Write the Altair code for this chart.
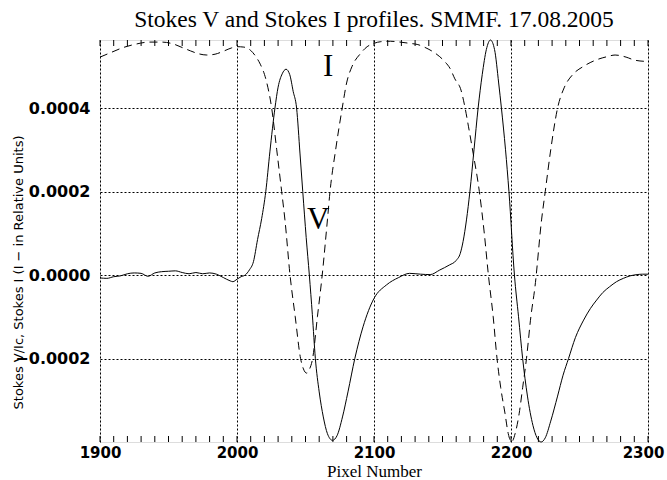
import altair as alt
import pandas as pd

# Stokes V (solid)
v_x = [1900, 1905, 1910, 1915, 1920, 1925, 1930, 1935, 1940, 1945, 1950, 1955, 1960, 1965,
       1970, 1975, 1980, 1985, 1990, 1995, 1997, 2000, 2003, 2006, 2009, 2012, 2015, 2018,
       2021, 2024, 2027.7, 2030, 2033, 2035.8, 2038.5, 2041, 2043.5, 2046, 2048, 2050.5,
       2052.8, 2055, 2057.2, 2060, 2063, 2066, 2069.7, 2073, 2077, 2081, 2086, 2092, 2100,
       2109, 2118, 2126, 2134, 2141, 2148, 2155, 2160, 2163, 2165, 2167.5, 2170, 2173, 2176,
       2179, 2182, 2185, 2188, 2191, 2193, 2196, 2198.5, 2202.5, 2205.5, 2208.5, 2212, 2216,
       2219, 2222, 2225, 2229, 2234, 2238, 2242, 2247, 2253, 2258, 2262.5, 2267, 2272, 2277,
       2282, 2287, 2292, 2296, 2300]
v_y = [-0.000007, -0.000008, -0.000004, -0.000002, 0.000003, 0.000005, 0.000004, -0.000003,
       0.000005, 0.000008, 0.000009, 0.000010, 0.000006, 0.000003, 0.000006, 0.000003,
       0.000005, 0.000002, -0.000006, -0.000014, -0.000016, -0.000010, -0.000004, 0.0,
       0.000012, 0.000032, 0.000085, 0.000135, 0.000200, 0.000295, 0.000400, 0.000450,
       0.000482, 0.000493, 0.000480, 0.000440, 0.000400, 0.000290, 0.000200, 0.000090,
       0.0, -0.000095, -0.000200, -0.000280, -0.000340, -0.000380, -0.000396, -0.000385,
       -0.000340, -0.000280, -0.000200, -0.000124, -0.000056, -0.000024, -0.000006, 0.000004,
       0.000002, 0.000001, 0.000012, 0.000024, 0.000035, 0.000052, 0.000080, 0.000132,
       0.000200, 0.000300, 0.000400, 0.000480, 0.000540, 0.000563, 0.000540, 0.000460,
       0.000400, 0.000300, 0.000200, 0.0, -0.000100, -0.000200, -0.000290, -0.000360,
       -0.000390, -0.000400, -0.000390, -0.000350, -0.000290, -0.000240, -0.000200,
       -0.000150, -0.000108, -0.000080, -0.000060, -0.000042, -0.000028, -0.000016,
       -0.000008, -0.000002, 0.000001, 0.000002, 0.000002]

# Stokes I (dashed, scaled)
i_x = [1900, 1908, 1917, 1926, 1936, 1945, 1953, 1960, 1966, 1972, 1978, 1984, 1990, 1996,
       2000, 2005, 2010, 2014, 2017, 2021, 2025.3, 2029, 2032.6, 2035, 2038.7, 2042.5,
       2046.4, 2048.5, 2050.8, 2053, 2055.2, 2058.7, 2062.2, 2066, 2067.9, 2072, 2076.8,
       2080, 2084, 2090, 2095, 2100, 2105, 2112, 2119, 2126, 2132, 2138, 2143, 2148, 2152,
       2155.5, 2159, 2163.5, 2166.5, 2169, 2172.4, 2176.9, 2180.5, 2183.5, 2187, 2189.8,
       2192.5, 2195.6, 2198, 2200.4, 2203, 2206, 2208.5, 2211.3, 2214.5, 2217.5, 2222.3,
       2225, 2229, 2234, 2239, 2245, 2253, 2262, 2270, 2276, 2284, 2290, 2297]
i_y = [0.000522, 0.000533, 0.000545, 0.000553, 0.000558, 0.000558, 0.000554, 0.000545,
       0.000537, 0.000530, 0.000527, 0.000529, 0.000536, 0.000544, 0.000547, 0.000546,
       0.000538, 0.000522, 0.000505, 0.000470, 0.000400, 0.000300, 0.000200, 0.000132,
       0.0, -0.000100, -0.000200, -0.000225, -0.000235, -0.000225, -0.000200, -0.000100,
       0.0, 0.000132, 0.000200, 0.000300, 0.000400, 0.000460, 0.000500, 0.000530, 0.000547,
       0.000555, 0.000559, 0.000560, 0.000558, 0.000555, 0.000552, 0.000544, 0.000535,
       0.000523, 0.000510, 0.000495, 0.000470, 0.000443, 0.000400, 0.000355, 0.000291,
       0.000200, 0.000100, 0.0, -0.000100, -0.000200, -0.000270, -0.000331, -0.000380,
       -0.000400, -0.000380, -0.000331, -0.000270, -0.000200, -0.000100, -0.000028,
       0.000132, 0.000200, 0.000300, 0.000400, 0.000450, 0.000480, 0.000500, 0.000515,
       0.000523, 0.000527, 0.000522, 0.000515, 0.000512]

x_major = [1900, 2000, 2100, 2200, 2300]
x_minor = list(range(1900, 2301, 10))
y_major = [-0.0002, 0.0, 0.0002, 0.0004]

lab_text = ["I", "V"]
lab_x = [2066.6, 2059.3]
lab_y = [0.000499, 0.000132]

W, H = 548, 402

df_v = pd.DataFrame({"x": v_x, "y": v_y})
df_i = pd.DataFrame({"x": i_x, "y": i_y})
df_minor = pd.DataFrame({"x": x_minor})
df_lab = pd.DataFrame({"t": lab_text, "x": lab_x, "y": lab_y})

xs = alt.Scale(domain=[1900, 2300], nice=False, zero=False)
ys = alt.Scale(domain=[-0.0004, 0.000563], nice=False, zero=False)

xaxis = alt.Axis(values=x_major, format="d", grid=True, gridDash=[2, 2], gridColor="black",
                 gridOpacity=1, gridWidth=1, ticks=False, domain=False,
                 labelFont="DejaVu Sans", labelFontWeight="bold", labelFontSize=15,
                 labelColor="black", labelPadding=3, labelFlush=False,
                 labelOffset={"condition": {"test": "datum.value == 2300", "value": -5},
                              "value": 0},
                 title="Pixel Number", titleFont="Liberation Serif", titleFontSize=17,
                 titleFontWeight="normal", titleColor="black", titleY=29.5,
                 titleBaseline="middle")
yaxis = alt.Axis(values=y_major, format=".4f", grid=True, gridDash=[2, 2], gridColor="black",
                 gridOpacity=1, gridWidth=1, ticks=False, domain=False,
                 labelFont="DejaVu Sans", labelFontWeight="bold", labelFontSize=16,
                 labelColor="black", labelPadding=10,
                 title="Stokes V/Ic, Stokes I (I \u2212 in Relative Units)",
                 titleFont="DejaVu Sans", titleFontSize=13, titleFontWeight="normal",
                 titleColor="black", titleX=-82, titleY=232, titleAngle=-90,
                 titleAlign="center", titleBaseline="middle")

v_line = alt.Chart(df_v).mark_line(color="black", strokeWidth=1, interpolate="monotone").encode(
    x=alt.X("x:Q", scale=xs, axis=xaxis),
    y=alt.Y("y:Q", scale=ys, axis=yaxis),
)
i_line = alt.Chart(df_i).mark_line(color="black", strokeWidth=1, strokeDash=[8, 5],
                                    interpolate="monotone").encode(
    x=alt.X("x:Q", scale=xs),
    y=alt.Y("y:Q", scale=ys),
)
ticks_bottom = alt.Chart(df_minor).mark_rule(color="black", strokeWidth=1).encode(
    x=alt.X("x:Q", scale=xs), y=alt.value(H), y2=alt.value(H - 6)
)
ticks_top = alt.Chart(df_minor).mark_rule(color="black", strokeWidth=1).encode(
    x=alt.X("x:Q", scale=xs), y=alt.value(0), y2=alt.value(6)
)
labels = alt.Chart(df_lab).mark_text(font="Liberation Serif", fontSize=31, color="black",
                                     align="center", baseline="middle").encode(
    x=alt.X("x:Q", scale=xs), y=alt.Y("y:Q", scale=ys), text="t:N"
)

chart = alt.layer(v_line, i_line, ticks_bottom, ticks_top, labels).properties(
    width=W, height=H,
    title=alt.TitleParams("Stokes V and Stokes I profiles. SMMF. 17.08.2005",
                          font="Liberation Serif", fontSize=23.5, fontWeight="normal",
                          color="black", anchor="middle", baseline="alphabetic", offset=13,
                          dy=25),
    autosize=alt.AutoSizeParams(type="none"),
    padding={"left": 100, "top": 40, "right": 19, "bottom": 38},
).configure_view(stroke="black", strokeWidth=1.3).configure(background="white")

chart.save("out.html", embed_options={"renderer": "svg", "actions": False})
